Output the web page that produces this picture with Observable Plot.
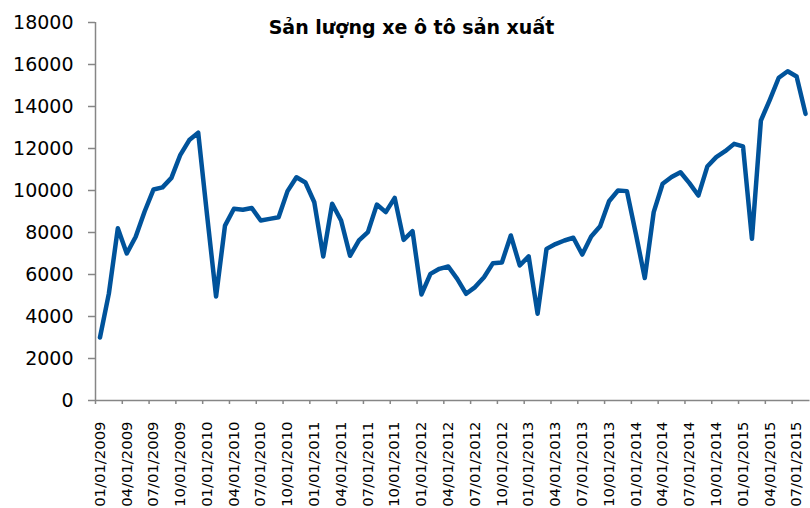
<!DOCTYPE html>
<html>
<head>
<meta charset="utf-8">
<script src="https://cdn.jsdelivr.net/npm/d3@7"></script>
<script src="https://cdn.jsdelivr.net/npm/@observablehq/plot@0.6"></script>
<style>
  html, body { margin: 0; padding: 0; background: #fff; }
  #chart { position: relative; width: 810px; height: 508px; }
</style>
</head>
<body>
<div id="chart"></div>
<script>
const title = "Sản lượng xe ô tô sản xuất";

// Monthly production, 01/2009 .. 08/2015 (80 months)
const production = [
  3000, 5100, 8200, 7000, 7800, 9000, 10050, 10150, 10600, 11700, 12400, 12750,
  8800, 4950, 8330, 9130, 9080, 9170, 8570, 8650, 8730, 9970, 10630, 10380,
  9440, 6860, 9370, 8570, 6890, 7620, 8020, 9330, 8970, 9650, 7650, 8060,
  5050, 6030, 6270, 6380, 5790, 5080, 5400, 5870, 6540, 6570, 7860, 6430,
  6860, 4130, 7220, 7450, 7620, 7750, 6950, 7810, 8300, 9490, 10000, 9970,
  7940, 5830, 8970, 10320, 10640, 10870, 10350, 9760, 11140, 11590, 11870, 12220,
  12100, 7700, 13330, 14320, 15370, 15680, 15430, 13650
];

const tickLabels = [
  "01/01/2009", "04/01/2009", "07/01/2009", "10/01/2009",
  "01/01/2010", "04/01/2010", "07/01/2010", "10/01/2010",
  "01/01/2011", "04/01/2011", "07/01/2011", "10/01/2011",
  "01/01/2012", "04/01/2012", "07/01/2012", "10/01/2012",
  "01/01/2013", "04/01/2013", "07/01/2013", "10/01/2013",
  "01/01/2014", "04/01/2014", "07/01/2014", "10/01/2014",
  "01/01/2015", "04/01/2015", "07/01/2015"
];

const yTicks = [0, 2000, 4000, 6000, 8000, 10000, 12000, 14000, 16000, 18000];

const data = production.map((v, i) => ({month: i, value: v}));
const labelMonths = tickLabels.map((_, k) => k * 3);
const boundaryMonths = labelMonths.map(m => m - 0.5);

const axisGray = "#868686";

const chart = Plot.plot({
  width: 810,
  height: 508,
  marginTop: 22,
  marginRight: 0.5,
  marginBottom: 108,
  marginLeft: 95,
  style: {fontFamily: "DejaVu Sans, sans-serif", background: "#fff", color: "#000"},
  x: {type: "linear", domain: [-0.5, production.length - 0.5], label: null},
  y: {domain: [0, 18000], label: null},
  marks: [
    Plot.axisY({ticks: yTicks, label: null, tickSize: 7, tickPadding: 15, fontSize: 19, stroke: axisGray, strokeWidth: 1.5, fill: "#000", tickFormat: d => String(d)}),
    Plot.axisX({ticks: boundaryMonths, label: null, tickSize: 4, stroke: axisGray, strokeWidth: 1.5, tickFormat: () => ""}),
    Plot.axisX({ticks: labelMonths, label: null, tickSize: 0, tickPadding: 21, tickRotate: -90, fontSize: 14.8, fill: "#000", tickFormat: m => tickLabels[m / 3]}),
    Plot.ruleX([-0.5], {stroke: axisGray, strokeWidth: 1.5}),
    Plot.ruleY([0], {stroke: axisGray, strokeWidth: 1.5}),
    Plot.line(data, {x: "month", y: "value", stroke: "#00539b", strokeWidth: 4.5, strokeLinejoin: "round", strokeLinecap: "round"}),
    Plot.text([title], {frameAnchor: "top-left", dx: 316, dy: -2, text: d => d, textAnchor: "middle", fontSize: 19, fontWeight: "bold", fill: "#000"})
  ]
});

document.getElementById("chart").appendChild(chart);
</script>
</body>
</html>
